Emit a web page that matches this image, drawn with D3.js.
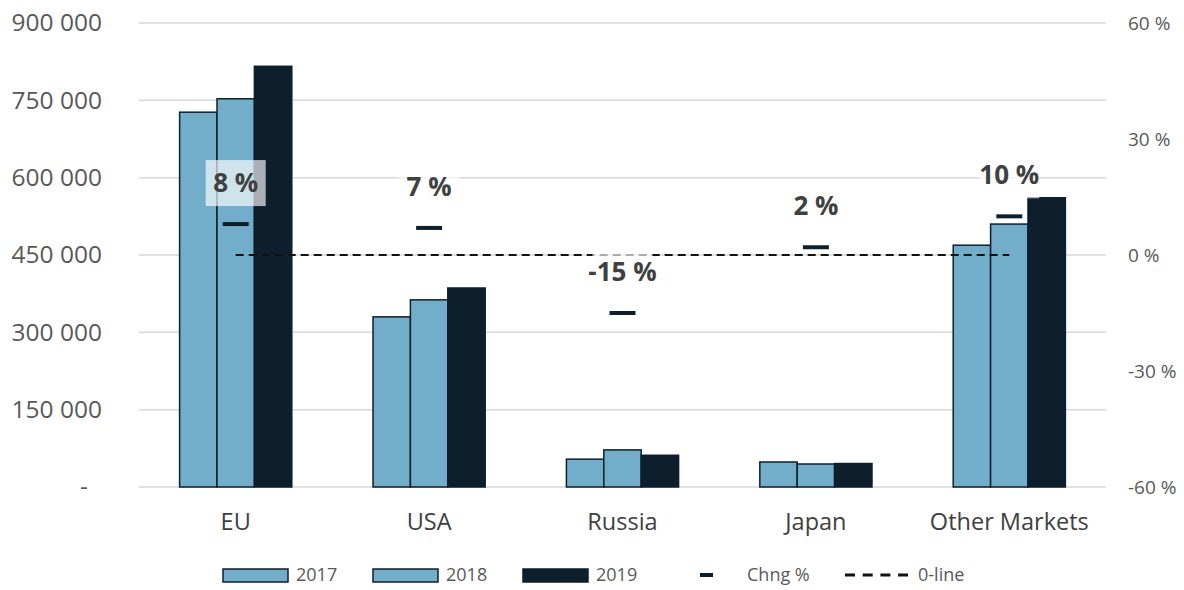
<!DOCTYPE html>
<html lang="en">
<head>
<meta charset="UTF-8">
<script src="https://cdnjs.cloudflare.com/ajax/libs/d3/7.8.5/d3.min.js"></script>
<style>
body{ margin:0; background:#fff; }
svg{ display:block; }
.tick line{ display:none; }
.domain{ display:none; }
</style>
</head>
<body>
<div id="chart"></div>
<script>
// data
const markets = ['EU', 'USA', 'Russia', 'Japan', 'Other Markets'];
const years = ['2017', '2018', '2019'];
const v2017 = [727000, 330000, 54000, 48500, 469000];
const v2018 = [753000, 363000, 72000, 44600, 510000];
const v2019 = [816000, 386000, 61500, 45500, 561000];
const chng = [8, 7, -15, 2, 10];
const leftTicks = [0, 150000, 300000, 450000, 600000, 750000, 900000];
const rightTicks = [-60, -30, 0, 30, 60];

const W = 1184, H = 590;
const m = {top: 23, right: 78, bottom: 103, left: 139};
const colors = ['#72aec9', '#72aec9', '#0d1f2d'];
const edge = '#0d1f2d';

const svg = d3.select('#chart').append('svg').attr('width', W).attr('height', H);

const x = d3.scaleBand().domain(markets).range([m.left, W - m.right]).paddingInner(0.42).paddingOuter(0.21);
const x1 = d3.scaleBand().domain(years).range([0, x.bandwidth()]);
const y = d3.scaleLinear().domain([0, 900000]).range([H - m.bottom, m.top]);
const y2 = d3.scaleLinear().domain([-60, 60]).range([H - m.bottom, m.top]);

// grid
svg.append('g').selectAll('line').data(leftTicks).join('line')
  .attr('x1', m.left).attr('x2', W - m.right)
  .attr('y1', d => y(d)).attr('y2', d => y(d))
  .attr('stroke', '#d9d9d9').attr('stroke-width', 1.5);

// left axis
const yAxis = svg.append('g').attr('transform', 'translate(' + (m.left - 34) + ',0)')
  .call(d3.axisLeft(y).tickValues(leftTicks).tickSize(0)
    .tickFormat(d => d === 0 ? '-' : d3.format(',')(d).replace(/,/g, ' ')));
yAxis.selectAll('text').attr('font-family', 'Open Sans').attr('font-size', 24.5).attr('fill', '#595959')
  .attr('dx', d => d === 0 ? -14 : 0);

// right axis
const y2Axis = svg.append('g').attr('transform', 'translate(' + (W - m.right + 19) + ',0)')
  .call(d3.axisRight(y2).tickValues(rightTicks).tickSize(0).tickFormat(d => d + ' %'));
y2Axis.selectAll('text').attr('font-family', 'Open Sans').attr('font-size', 19).attr('fill', '#595959');

// category axis
const xAxis = svg.append('g').attr('transform', 'translate(0,' + (H - m.bottom + 23) + ')')
  .call(d3.axisBottom(x).tickSize(0));
xAxis.selectAll('text').attr('font-family', 'Open Sans').attr('font-size', 23.5).attr('fill', '#404040');

// bars
const series = [v2017, v2018, v2019];
years.forEach((yr, j) => {
  svg.append('g').selectAll('rect').data(series[j]).join('rect')
    .attr('x', (d, i) => x(markets[i]) + x1(yr))
    .attr('y', d => y(d))
    .attr('width', x1.bandwidth())
    .attr('height', d => y(0) - y(d))
    .attr('fill', colors[j]).attr('stroke', edge).attr('stroke-width', 1.5);
});

// 0-line
svg.append('line')
  .attr('x1', x(markets[0]) + x.bandwidth() / 2).attr('x2', x(markets[4]) + x.bandwidth() / 2)
  .attr('y1', y2(0)).attr('y2', y2(0))
  .attr('stroke', '#111').attr('stroke-width', 2).attr('stroke-dasharray', '8,5');

// change markers
svg.append('g').selectAll('line').data(chng).join('line')
  .attr('x1', (d, i) => x(markets[i]) + x.bandwidth() / 2 - 13)
  .attr('x2', (d, i) => x(markets[i]) + x.bandwidth() / 2 + 13)
  .attr('y1', d => y2(d)).attr('y2', d => y2(d))
  .attr('stroke', edge).attr('stroke-width', 4);

// change labels with a pale box
const lab = svg.append('g').selectAll('g').data(chng).join('g')
  .attr('transform', (d, i) => 'translate(' + (x(markets[i]) + x.bandwidth() / 2) + ',' + (y2(d) - 41) + ')');
lab.append('rect').attr('x', -30).attr('y', -23).attr('width', 60).attr('height', 46)
  .attr('fill', '#fff').attr('opacity', 0.65);
lab.append('text').text(d => d + ' %')
  .attr('text-anchor', 'middle').attr('dy', '0.35em')
  .attr('font-family', 'Open Sans').attr('font-weight', 'bold').attr('font-size', 26).attr('fill', '#404040');

// legend
const lg = svg.append('g').attr('font-family', 'Open Sans').attr('font-size', 18).attr('fill', '#595959');
const ly = 575;
const sw = [223, 373, 523];
years.forEach((yr, j) => {
  lg.append('rect').attr('x', sw[j]).attr('y', ly - 6).attr('width', 65).attr('height', 13)
    .attr('fill', colors[j]).attr('stroke', edge).attr('stroke-width', 1.5);
  lg.append('text').attr('x', sw[j] + 73).attr('y', ly).attr('dy', '0.35em').text(yr);
});
lg.append('line').attr('x1', 700).attr('x2', 713).attr('y1', ly).attr('y2', ly).attr('stroke', edge).attr('stroke-width', 4);
lg.append('text').attr('x', 747).attr('y', ly).attr('dy', '0.35em').text('Chng %');
lg.append('line').attr('x1', 845).attr('x2', 908).attr('y1', ly).attr('y2', ly)
  .attr('stroke', '#111').attr('stroke-width', 3).attr('stroke-dasharray', '10,7.7');
lg.append('text').attr('x', 918).attr('y', ly).attr('dy', '0.35em').text('0-line');
</script>
</body>
</html>
